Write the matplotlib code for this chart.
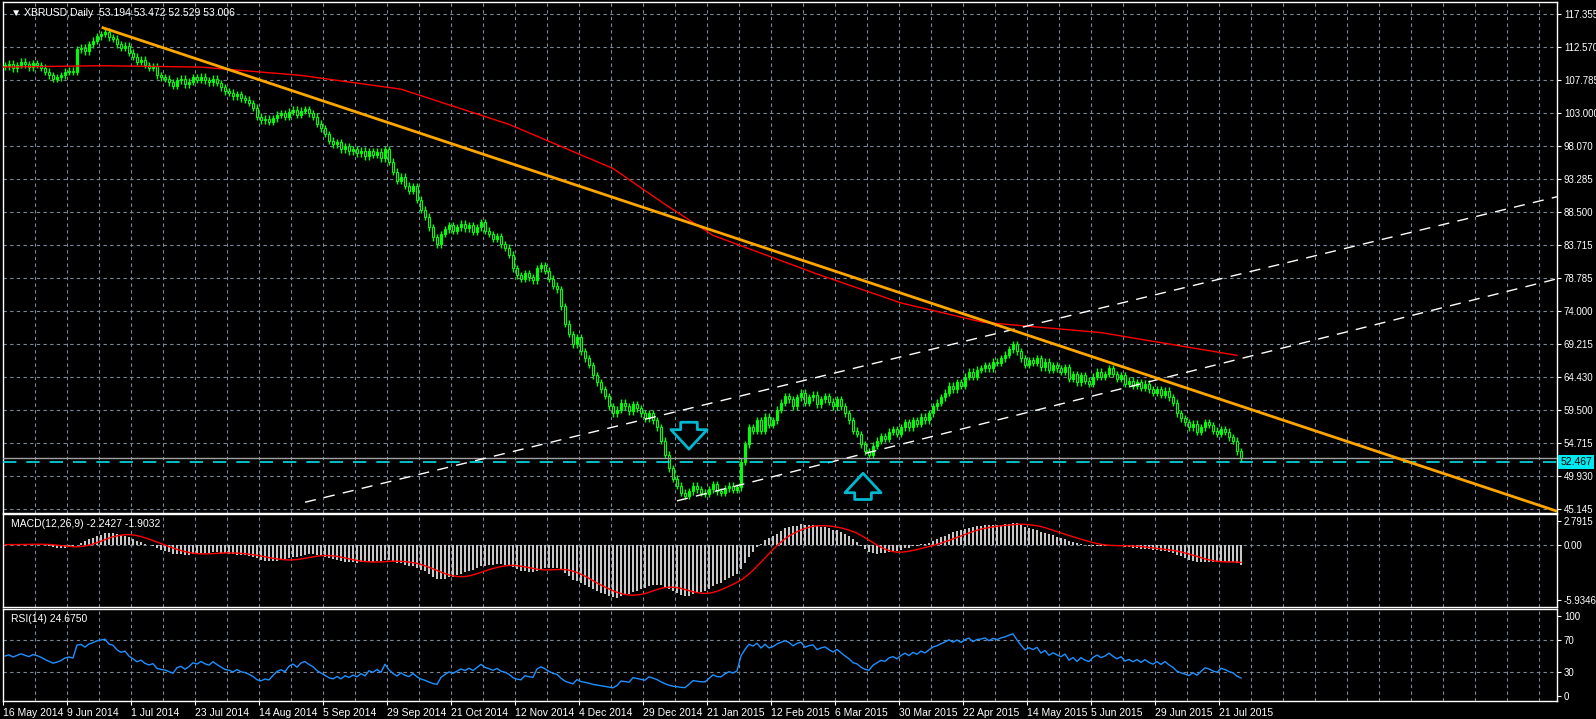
import numpy as np
import matplotlib
matplotlib.use("Agg")
import matplotlib.pyplot as plt

plt.rcParams['font.family'] = ['Liberation Sans', 'DejaVu Sans']

closes = [109.8,110.2,109.5,110.0,110.5,110.1,109.7,110.3,110.0,109.6,109.0,108.5,108.0,
 108.2,108.5,109.0,109.2,109.0,
 112.3,112.5,112.0,113.0,113.5,114.2,114.5,114.8,
 114.0,113.8,113.0,112.5,112.8,111.8,111.2,110.5,110.8,110.0,109.6,109.8,108.5,108.2,108.0,
 107.5,107.0,107.8,108.0,107.2,107.6,108.2,107.9,108.3,107.8,107.5,108.0,107.4,106.8,106.2,106.0,105.5,105.8,105.2,105.0,
 104.5,103.8,102.5,102.0,102.2,101.8,102.3,
 102.8,103.0,102.5,103.2,103.5,102.8,103.4,103.6,103.0,102.5,101.5,100.8,
 100.0,99.0,98.5,98.8,97.8,98.2,97.5,97.8,
 97.2,97.6,96.8,97.5,97.0,97.4,96.5,97.8,96.0,
 94.5,93.2,93.8,92.5,91.8,92.4,90.5,89.0,88.0,
 86.5,85.0,84.0,85.5,86.2,
 86.8,86.0,86.5,87.0,86.3,86.8,85.8,86.5,87.2,86.0,85.5,84.8,85.2,84.0,
 83.5,82.5,80.5,79.5,79.0,79.8,79.2,78.8,
 80.5,81.0,80.2,79.0,78.0,77.5,
 75.0,72.5,71.0,69.5,70.5,68.5,67.5,
 66.5,65.0,64.0,63.0,62.0,60.5,59.5,
 60.0,61.0,60.5,59.8,60.8,60.2,59.5,58.8,59.5,58.5,57.5,
 55.5,53.5,51.5,50.0,49.0,
 48.0,47.5,48.2,49.0,48.5,48.0,47.8,48.5,49.2,48.2,48.0,48.6,49.0,48.4,48.8,
 52.5,55.0,57.5,57.0,58.5,57.0,59.0,57.8,58.5,
 60.0,61.0,62.0,61.5,60.5,61.8,62.5,61.0,61.8,62.2,60.8,61.5,62.0,61.2,60.5,61.5,60.5,59.5,
 58.5,57.0,56.5,55.0,54.0,53.5,
 54.8,55.5,56.2,55.8,56.8,57.2,56.5,57.5,
 58.2,57.5,58.5,58.0,59.0,58.5,59.5,60.5,61.0,61.8,
 62.5,63.5,63.0,64.0,63.5,64.8,65.5,64.8,65.8,66.0,
 66.5,66.0,67.0,66.8,67.5,68.0,68.8,69.5,68.5,
 67.5,66.5,67.2,66.8,67.5,66.2,67.0,65.8,66.5,66.0,65.5,66.2,
 64.5,65.2,64.0,65.0,64.2,63.8,64.8,65.5,64.8,65.2,
 66.0,65.2,64.5,65.0,63.8,64.2,63.5,64.0,63.2,63.8,63.0,62.5,63.0,62.2,62.8,
 61.8,61.0,59.5,58.8,
 58.2,57.5,58.0,56.8,57.5,58.2,57.8,57.0,56.5,57.2,56.8,56.0,55.5,
 54.0,53.0]
first_open = 110.0

ma_bars = [-1, 24, 49, 74, 99, 126, 152, 165, 177, 203, 224, 244.5, 274, 308]
ma_vals = [109.7, 109.9, 109.7, 108.5, 106.5, 101.4, 95.0, 89.8, 85.3, 79.7, 75.5, 72.7, 71.2, 67.9]

trend_bars = [24.5, 388]; trend_vals = [115.4, 45.3]
chanA_bars = [75, 388]; chanA_vals = [46.6, 90.9]
chanB_bars = [168, 388]; chanB_vals = [46.8, 79.0]
support = 52.467
last_price = 53.006

price_ticks = [117.355 - k*4.785 for k in range(16)]
price_labels = ["117.355","112.570","107.785","103.000","98.070","93.285","88.500","83.715",
                "78.785","74.000","69.215","64.430","59.500","54.715","49.930","45.145"]
date_labels = ["16 May 2014","9 Jun 2014","1 Jul 2014","23 Jul 2014","14 Aug 2014","5 Sep 2014",
               "29 Sep 2014","21 Oct 2014","12 Nov 2014","4 Dec 2014","29 Dec 2014","21 Jan 2015",
               "12 Feb 2015","6 Mar 2015","30 Mar 2015","22 Apr 2015","14 May 2015","5 Jun 2015",
               "29 Jun 2015","21 Jul 2015"]

c = np.array(closes)
o = np.concatenate([[first_open], c[:-1]])
n = len(c)
idx = np.arange(n)
hi = np.maximum(o, c) + 0.5
lo = np.minimum(o, c) - 0.5

def ema(x, p):
    a = 2/(p+1); out = np.empty_like(x); out[0] = x[0]
    for i in range(1, len(x)): out[i] = a*x[i] + (1-a)*out[i-1]
    return out
macd = ema(c, 12) - ema(c, 26)
sig = np.array([macd[max(0, i-8):i+1].mean() for i in range(n)])
d = np.diff(c, prepend=c[0])
g = np.where(d > 0, d, 0); l = np.where(d < 0, -d, 0)
ag = np.empty(n); al = np.empty(n); ag[0] = 0.5; al[0] = 0.5
for i in range(1, n):
    ag[i] = (ag[i-1]*13 + g[i])/14; al[i] = (al[i-1]*13 + l[i])/14
rsi = 100 - 100/(1 + ag/np.maximum(al, 1e-9))

W, H = 1596, 719
fig = plt.figure(figsize=(W/100, H/100), dpi=100, facecolor='black')
def ax_at(x0, y0, x1, y1):
    return fig.add_axes([x0/W, 1-y1/H, (x1-x0)/W, (y1-y0)/H], facecolor='black')
ax = ax_at(3, 2, 1557, 513)
axm = ax_at(3, 514, 1557, 607)
axr = ax_at(3, 609, 1557, 701)
XL = (-0.5, 388)
vgrid = np.arange(7.5, 388, 8)
gc = '#7c8898'
FS = 7
for a in (ax, axm, axr):
    a.set_xlim(*XL)
    for s in a.spines.values(): s.set_color('white'); s.set_linewidth(1)
    a.yaxis.tick_right()
    a.tick_params(axis='y', colors='white', labelsize=FS, length=3, pad=2)
    a.tick_params(axis='x', length=0, labelbottom=False)
    for v in vgrid:
        a.axvline(v, color=gc, ls=(0, (3, 3)), lw=0.8, zorder=0)

# main
ax.set_ylim(45.04, 119.14)
ax.set_yticks(price_ticks); ax.set_yticklabels(price_labels)
for p in price_ticks:
    ax.axhline(p, color=gc, ls=(0, (3, 3)), lw=0.8, zorder=0)
up = c >= o
ax.vlines(idx, lo, hi, color='#00ff00', lw=1, zorder=3)
ax.bar(idx[up], (c-o)[up], bottom=o[up], width=0.6, color='#00ff00', edgecolor='#00ff00', lw=0.8, zorder=4)
ax.bar(idx[~up], (o-c)[~up], bottom=c[~up], width=0.6, color='black', edgecolor='#00ff00', lw=0.8, zorder=4)
ax.plot(ma_bars, ma_vals, color='#ff0000', lw=1, zorder=5)
ax.plot(trend_bars, trend_vals, color='#ffa500', lw=2, zorder=6)
ax.plot(chanA_bars, chanA_vals, color='white', lw=1, ls=(0, (8, 6)), zorder=5)
ax.plot(chanB_bars, chanB_vals, color='white', lw=1, ls=(0, (8, 6)), zorder=5)
ax.axhline(support, color='#00e0e8', lw=1.2, ls=(0, (8, 6)), zorder=5)
ax.axhline(last_price, color='#a0a0a0', lw=1, zorder=4)
ap = dict(arrowstyle='simple,head_length=0.7,head_width=1.3,tail_width=0.6',
          fc='black', ec='#00b8d0', lw=2, shrinkA=0, shrinkB=0, mutation_scale=20)
ax.annotate('', xy=(171, 54.3), xytext=(171, 58.2), arrowprops=ap, zorder=7)
ax.annotate('', xy=(214.5, 50.8), xytext=(214.5, 47.0), arrowprops=ap, zorder=7)
ax.text(1.002, support, "52.467", transform=ax.get_yaxis_transform(), va='center', ha='left',
        fontsize=FS+0.5, color='black', bbox=dict(boxstyle='square,pad=0.2', fc='#00e8f0', ec='none'),
        zorder=10, clip_on=False)
ax.text(0.005, 0.988, "▼ XBRUSD,Daily  53.194 53.472 52.529 53.006", transform=ax.transAxes,
        va='top', ha='left', color='white', fontsize=FS+0.5)

# MACD
axm.set_ylim(-6.7, 3.3)
axm.set_yticks([2.6, 0, -5.9346]); axm.set_yticklabels(["2.7915", "0.00", "-5.9346"])
axm.axhline(0, color=gc, ls=(0, (3, 3)), lw=0.8, zorder=0)
axm.bar(idx, macd, width=0.7, color='#c8c8c8', zorder=3)
axm.plot(idx, sig, color='#ff0000', lw=1, zorder=4)
axm.text(0.005, 0.95, "MACD(12,26,9) -2.2427 -1.9032", transform=axm.transAxes, va='top', ha='left',
         color='white', fontsize=FS+0.5)

# RSI
axr.set_ylim(-6.3, 108.9)
axr.set_yticks([100, 70, 30, 0])
for v in (70, 30):
    axr.axhline(v, color=gc, ls=(0, (3, 3)), lw=0.8, zorder=0)
axr.plot(idx, rsi, color='#1e90ff', lw=1, zorder=3)
axr.text(0.005, 0.95, "RSI(14) 24.6750", transform=axr.transAxes, va='top', ha='left',
         color='white', fontsize=FS+0.5)
axr.set_xticks([16*k - 0.5 for k in range(len(date_labels))])
axr.set_xticklabels(date_labels, ha='left', fontsize=FS+0.5, color='white')
axr.tick_params(axis='x', labelbottom=True, pad=2, colors='white', length=3, direction='out')

fig.savefig('out.png', dpi=100, facecolor='black')
